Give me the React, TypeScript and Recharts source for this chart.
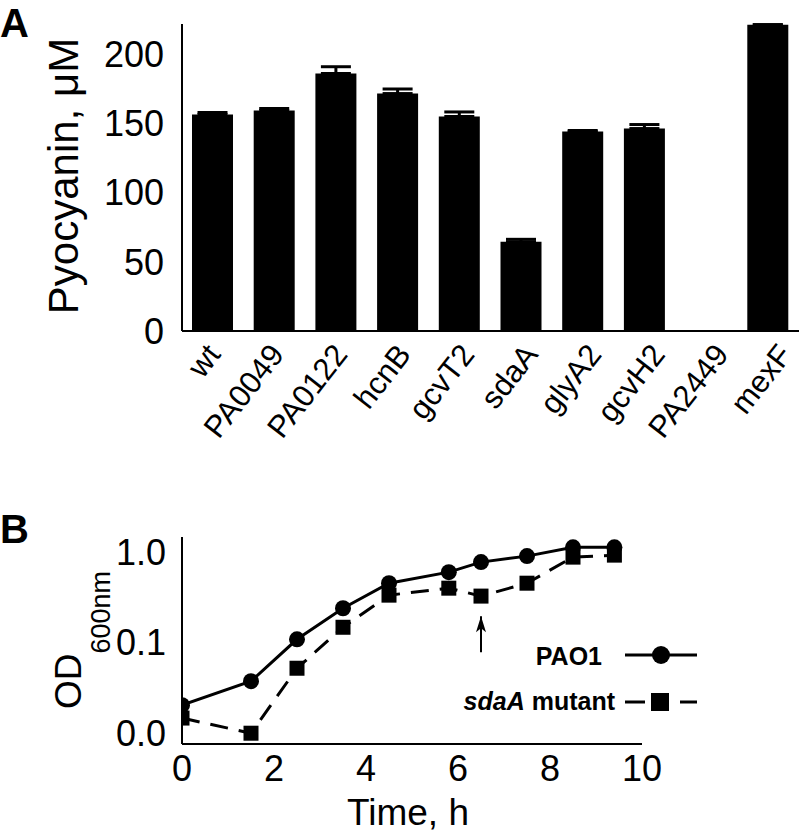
import React from 'react';
import {
  BarChart, Bar, XAxis, YAxis, ErrorBar,
  LineChart, Line, ReferenceDot, ReferenceLine, Legend,
} from 'recharts';

const FONT = "'Liberation Sans', Arial, Helvetica, sans-serif";

// ---- Panel A data ----
const strains = ['wt', 'PA0049', 'PA0122', 'hcnB', 'gcvT2', 'sdaA', 'glyA2', 'gcvH2', 'PA2449', 'mexF'];
const pyocyanin = [156.5, 159.4, 186.2, 171.7, 155.1, 64.5, 144.2, 146.4, 0, 221.5];
const pyocyaninErr = [1.5, 1.5, 4.9, 3.3, 3.3, 1.8, 0.8, 2.9, 0.5, 0];
const pyoTicks = [0, 50, 100, 150, 200];

// ---- Panel B data ----
const times = [0, 1.5, 2.5, 3.5, 4.5, 5.8, 6.5, 7.5, 8.5, 9.4];
const pao1OD = [0.0204, 0.0376, 0.109, 0.24, 0.454, 0.601, 0.776, 0.904, 1.13, 1.13];
const sdaAOD = [0.0147, 0.01, 0.0522, 0.148, 0.335, 0.4, 0.327, 0.454, 0.881, 0.927];
const timeTicks = [0, 2, 4, 6, 8, 10];
const odTicks = [0.01, 0.1, 1];
const arrowTime = 6.5;
const arrowTip = 0.196;
const arrowTail = 0.0785;

const barData = strains.map((s, i) => ({ strain: s, value: pyocyanin[i], err: [0, pyocyaninErr[i]] }));
const growthData = times.map((t, i) => ({ t, pao1: pao1OD[i], sdaA: sdaAOD[i] }));

const renderStrainTick = (props: any) => {
  const { x, y, payload, index } = props;
  const px = x + 9 + (index || 0) * 1.8;
  const py = y + 24;
  return (
    <text key={`st-${payload.value}`} x={px} y={py} transform={`rotate(-52, ${px}, ${py})`} textAnchor="end"
      style={{ fontSize: '31px', fontFamily: FONT, fill: '#000' }}>{payload.value}</text>
  );
};

const SquareDot = (props: any) => {
  const { cx, cy } = props;
  if (cx == null || cy == null) return null;
  return <rect x={cx - 7.5} y={cy - 7.5} width={15} height={15} fill="#000" />;
};

const CircleDot = (props: any) => {
  const { cx, cy } = props;
  if (cx == null || cy == null) return null;
  return <circle cx={cx} cy={cy} r={8} fill="#000" />;
};

const ArrowHead = (props: any) => {
  const { cx, cy } = props;
  if (cx == null || cy == null) return null;
  return <path d={`M${cx},${cy} L${cx - 5},${cy + 16} L${cx},${cy + 12} L${cx + 5},${cy + 16} Z`} fill="#000" />;
};

const GrowthLegend = () => (
  <svg width={300} height={90} style={{ display: 'block' }}>
    <text x={202} y={35} textAnchor="end" style={{ fontSize: '25px', fontWeight: 'bold', fontFamily: FONT, fill: '#000' }}>PAO1</text>
    <line x1={225} y1={25} x2={297} y2={25} stroke="#000" strokeWidth={3} />
    <circle cx={261} cy={25} r={9} fill="#000" />
    <text x={215} y={80} textAnchor="end" style={{ fontSize: '25px', fontWeight: 'bold', fontFamily: FONT, fill: '#000' }}>
      <tspan style={{ fontStyle: 'italic' }}>sdaA</tspan> mutant
    </text>
    <line x1={225} y1={72} x2={245} y2={72} stroke="#000" strokeWidth={3} />
    <rect x={251} y={63} width={18} height={18} fill="#000" />
    <line x1={280} y1={72} x2={297} y2={72} stroke="#000" strokeWidth={3} />
  </svg>
);

export default function App() {
  const axisLine = { stroke: '#000', strokeWidth: 2 };
  const tickStyle = { fontSize: 36, fill: '#000', fontFamily: FONT };
  return (
    <div style={{ position: 'absolute', left: 0, top: 0, width: 800, height: 833, background: '#fff', fontFamily: FONT }}>
      <svg width={800} height={833} style={{ position: 'absolute', left: 0, top: 0 }}>
        <text x={0} y={37} style={{ fontSize: '40px', fontWeight: 'bold', fontFamily: FONT, fill: '#000' }}>A</text>
        <text x={0} y={543} style={{ fontSize: '40px', fontWeight: 'bold', fontFamily: FONT, fill: '#000' }}>B</text>
      </svg>

      <div style={{ position: 'absolute', left: 0, top: 0 }}>
        <BarChart width={800} height={505} data={barData} margin={{ top: 24, right: 1, left: 0, bottom: 0 }}>
          <XAxis dataKey="strain" interval={0} tickLine={false} tickSize={0} tickMargin={0}
            axisLine={axisLine} height={174} tick={renderStrainTick} />
          <YAxis type="number" domain={[0, 222]} ticks={pyoTicks} allowDataOverflow width={182}
            tickLine={false} tickSize={0} tickMargin={18} axisLine={axisLine} tick={tickStyle}
            label={(p: any) => {
              const lx = 78;
              const ly = 176;
              return (
                <text x={lx} y={ly} transform={`rotate(-90, ${lx}, ${ly})`} textAnchor="middle"
                  style={{ fontSize: '42px', fontFamily: FONT, fill: '#000' }}>Pyocyanin, μM</text>
              );
            }} />
          <Bar dataKey="value" fill="#000" barSize={41} isAnimationActive={false}>
            <ErrorBar dataKey="err" direction="y" width={15} stroke="#000" strokeWidth={3} isAnimationActive={false} />
          </Bar>
        </BarChart>
      </div>

      <div style={{ position: 'absolute', left: 0, top: 510 }}>
        <LineChart width={800} height={323} data={growthData} margin={{ top: 27, right: 158, left: 0, bottom: 0 }}>
          <XAxis type="number" dataKey="t" domain={[0, 10]} ticks={timeTicks} allowDataOverflow
            tickLine={false} tickSize={0} tickMargin={11} axisLine={axisLine} tick={tickStyle} height={89}
            label={(p: any) => {
              const vb = p.viewBox || { x: 182, y: 234, width: 460 };
              const lx = vb.x + vb.width / 2 - 4;
              const ly = vb.y + 81;
              return (
                <text x={lx} y={ly} textAnchor="middle" style={{ fontSize: '37px', fontFamily: FONT, fill: '#000' }}>Time, h</text>
              );
            }} />
          <YAxis type="number" scale="log" domain={[0.0076, 1.47]} allowDataOverflow ticks={odTicks}
            tickFormatter={(v: number) => v.toFixed(1)} width={182}
            tickLine={false} tickSize={0} tickMargin={16} axisLine={axisLine} tick={tickStyle}
            label={(p: any) => {
              const lx = 81;
              const ly = 130;
              return (
                <text x={lx} y={ly} transform={`rotate(-90, ${lx}, ${ly})`} textAnchor="middle"
                  style={{ fontSize: '37px', fontFamily: FONT, fill: '#000' }}>
                  OD<tspan dy={29} style={{ fontSize: '27px' }}>600nm</tspan>
                </text>
              );
            }} />
          <Legend layout="vertical" align="center" verticalAlign="middle"
            wrapperStyle={{ position: 'absolute', left: 400, top: 120, width: 300, height: 90 }}
            content={() => <GrowthLegend />} />
          <Line type="linear" dataKey="pao1" name="PAO1" stroke="#000" strokeWidth={3}
            dot={<CircleDot />} activeDot={false} isAnimationActive={false} />
          <Line type="linear" dataKey="sdaA" name="sdaA mutant" stroke="#000" strokeWidth={3}
            strokeDasharray="18 11" dot={<SquareDot />} activeDot={false} isAnimationActive={false} />
          <ReferenceLine segment={[{ x: arrowTime, y: arrowTail }, { x: arrowTime, y: arrowTip }]}
            stroke="#000" strokeWidth={2} />
          <ReferenceDot x={arrowTime} y={arrowTip} r={0} shape={<ArrowHead />} />
        </LineChart>
      </div>
    </div>
  );
}
